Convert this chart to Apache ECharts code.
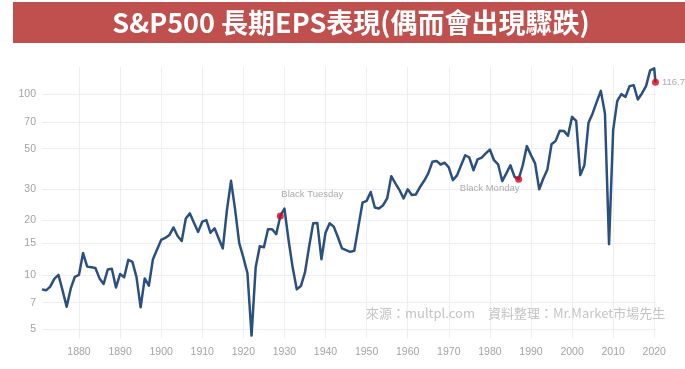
<!DOCTYPE html>
<html><head><meta charset="utf-8">
<script src="https://cdn.jsdelivr.net/npm/echarts@6/dist/echarts.min.js"></script>
<style>html,body{margin:0;padding:0;background:#fff}#c{width:685px;height:369px}</style>
</head><body><div id="c"></div>
<script>
// Years 1871..2020 plus a final partial-year reading
const years = [];
for (let y = 1871; y <= 2020; y++) years.push(y);
years.push(2020.3);

const eps = [
  8.3, 8.2, 8.6, 9.5, 10.0, 8.2, 6.65, 8.4, 9.75,            // 1871-1879
  10.0, 13.2, 11.1, 11.0, 10.9, 9.55, 8.9, 10.7, 10.8, 8.5,  // 1880-1889
  10.1, 9.7, 12.1, 11.8, 9.7, 6.6, 9.55, 8.7, 12.2, 13.8,    // 1890-1899
  15.6, 16.0, 16.6, 18.3, 16.4, 15.4, 20.5, 21.9, 19.4, 17.3,// 1900-1909
  19.7, 20.1, 17.1, 18.1, 15.9, 14.0, 22.8, 33.2, 23.0, 15.0,// 1910-1919
  12.5, 10.2, 4.6, 11.0, 14.4, 14.2, 17.9, 17.9, 16.8, 21.2, // 1920-1929
  23.3, 15.6, 11.0, 8.3, 8.66, 10.3, 14.3, 19.3, 19.4, 12.2, // 1930-1939
  17.1, 19.3, 18.5, 16.2, 14.0, 13.7, 13.4, 13.6, 18.5, 25.1,// 1940-1949
  25.7, 28.8, 23.6, 23.3, 24.3, 26.5, 35.2, 32.1, 29.5, 26.5,// 1950-1959
  29.8, 27.7, 27.9, 30.7, 33.2, 36.5, 42.3, 42.8, 40.9, 41.8,// 1960-1969
  39.4, 33.5, 35.6, 40.5, 46.0, 44.7, 38.0, 43.6, 44.7, 47.1,// 1970-1979
  49.5, 43.2, 41.0, 33.1, 36.5, 40.5, 34.9, 33.9, 40.5, 51.7,// 1980-1989
  46.1, 41.5, 29.8, 34.2, 38.4, 53.0, 55.3, 62.9, 62.8, 59.0,// 1990-1999
  75.1, 71.4, 35.7, 40.5, 69.6, 78.5, 91.0, 104.7, 78.5, 14.8,// 2000-2009
  63.4, 92.2, 100.4, 97.0, 111.2, 112.6, 93.8, 101.3, 111.2, 136.0, // 2010-2019
  139.5, 116.7                                               // 2020, latest
];

const yTicks = [5, 7, 10, 15, 20, 30, 50, 70, 100];
const xTicks = [1880, 1890, 1900, 1910, 1920, 1930, 1940, 1950, 1960, 1970, 1980, 1990, 2000, 2010, 2020];

const eventNames = ['Black Tuesday', 'Black Monday', '116.7'];
const eventYears = [1929, 1987, 2020.3];

const titleText = 'S&P500 長期EPS表現(偶而會出現驟跌)';
const sourceText = '來源：multpl.com　資料整理：Mr.Market市場先生';

const lineData = years.map((y, i) => [y, eps[i]]);
const eventLabelCfg = [
  {position: 'inside', offset: [32, -22]},
  {position: 'inside', offset: [-29, 9]},
  {position: 'right', distance: 3}
];
const eventData = eventYears.map((y, k) => {
  const i = years.indexOf(y);
  return {
    name: eventNames[k],
    value: [years[i], eps[i]],
    label: Object.assign({show: true, formatter: '{b}', color: '#969696', fontSize: 9.5,
      fontFamily: 'Liberation Sans, Arial, sans-serif'}, eventLabelCfg[k])
  };
});

const chart = echarts.init(document.getElementById('c'), null, {renderer: 'canvas'});
const gridColor = '#eceef1';
const labelColor = '#a3a3a3';
chart.setOption({
  animation: false,
  backgroundColor: '#ffffff',
  grid: {left: 42, right: 28.7, top: 67, bottom: 30.8, containLabel: false},
  xAxis: {
    type: 'value', min: 1871, max: 2020.5,
    axisLine: {show: false},
    axisTick: {show: false, customValues: xTicks},
    axisLabel: {customValues: xTicks, color: labelColor, fontSize: 10.5, margin: 8,
      fontFamily: 'Liberation Sans, Arial, sans-serif', formatter: v => String(v)},
    splitLine: {show: true, lineStyle: {color: gridColor, width: 1}}
  },
  yAxis: [{
    type: 'log', min: 4.45, max: 142,
    axisLine: {show: false}, axisTick: {show: false},
    axisLabel: {show: false}, splitLine: {show: false}
  }, {
    type: 'value', min: Math.log10(4.45), max: Math.log10(142), position: 'left',
    axisLine: {show: false},
    axisTick: {show: false, customValues: yTicks.map(v => Math.log10(v))},
    axisLabel: {customValues: yTicks.map(v => Math.log10(v)), color: labelColor, fontSize: 10.5, margin: 6,
      fontFamily: 'Liberation Sans, Arial, sans-serif',
      formatter: v => String(Math.round(Math.pow(10, v)))},
    splitLine: {show: true, lineStyle: {color: gridColor, width: 1}}
  }],
  series: [{
    type: 'line', yAxisIndex: 0, data: lineData, symbol: 'none', smooth: false,
    lineStyle: {color: '#2b5080', width: 2.5, join: 'round'}, z: 3
  }, {
    type: 'scatter', yAxisIndex: 0, data: eventData, symbolSize: 7,
    itemStyle: {color: '#d7061f'}, z: 4
  }],
  graphic: [
    {type: 'rect', left: 13, top: 2, shape: {width: 672, height: 41}, style: {fill: '#c0504d'}, z: 10},
    {type: 'text', x: 351, y: 23, z: 11, style: {text: titleText, fill: '#ffffff',
      font: 'bold 27px "Noto Sans CJK TC", sans-serif', textAlign: 'center', textVerticalAlign: 'middle'}},
    {type: 'text', x: 366, y: 313, z: 11, style: {text: sourceText, fill: '#c4c4c4',
      font: '13px "Noto Sans CJK TC", sans-serif', textAlign: 'left', textVerticalAlign: 'middle'}}
  ]
});
</script></body></html>
